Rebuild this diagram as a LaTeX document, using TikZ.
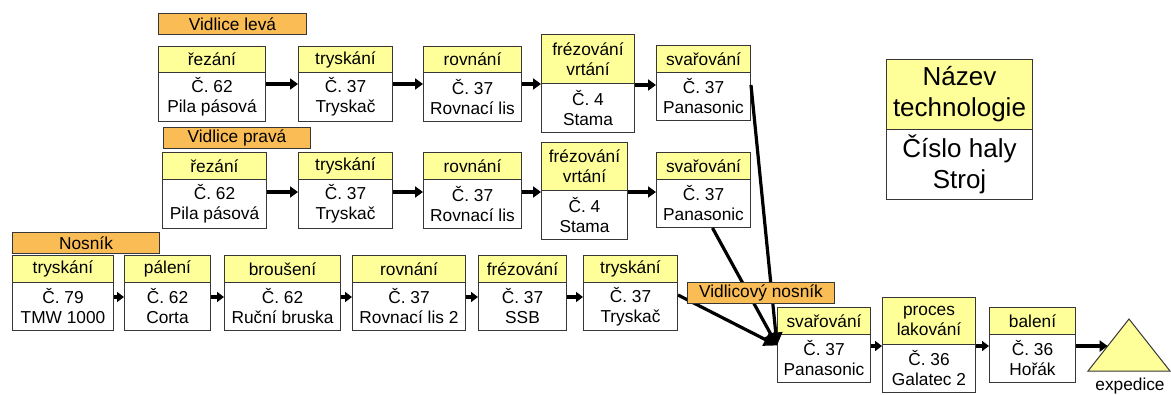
\documentclass[tikz,border=0pt]{standalone}
\usepackage{fontspec}
\setmainfont{Liberation Sans}
\usetikzlibrary{arrows.meta,calc}
\definecolor{hdryellow}{RGB}{255,255,153}
\definecolor{lblorange}{RGB}{250,188,84}
\definecolor{edgegray}{RGB}{55,55,55}
\newcommand\bfnt{\fontsize{17.3}{20}\selectfont}
\newcommand\lgfnt{\fontsize{26}{31}\selectfont}
% name, x1, x2, ytop, yhdr, ybot, header, body
\newcommand\procbox[8]{%
  \node[hdr, anchor=north west, minimum width={(#3-#2)*1pt}, minimum height={(#5-#4)*1pt}] (#1h) at (#2,#4) {#7};
  \node[bdy, anchor=north west, minimum width={(#3-#2)*1pt}, minimum height={(#6-#5)*1pt}] (#1) at (#2,#5) {#8};
}
% name, x1, x2, ytop, ybot, text
\newcommand\lblbox[6]{%
  \node[lbl, anchor=north west, minimum width={(#3-#2)*1pt}, minimum height={(#5-#4)*1pt}] (#1) at (#2,#4) {#6};
}
\begin{document}
\begin{tikzpicture}[x=1pt,y=-1pt,
  hdr/.style={draw=edgegray, line width=1pt, fill=hdryellow, inner sep=0pt, align=center, font=\bfnt},
  bdy/.style={draw=edgegray, line width=1pt, fill=white, inner sep=0pt, align=center, font=\bfnt},
  lbl/.style={draw=edgegray, line width=1pt, fill=lblorange, inner sep=0pt, font=\bfnt},
  arr/.style={line width=3.2pt, -{Triangle[length=8pt,width=11pt]}},
  arrs/.style={line width=3.2pt, -{Triangle[length=7pt,width=10pt]}},
  conv/.style={line width=3.2pt, -{Triangle[length=13pt,width=13pt]}},
  plain/.style={font=\bfnt, inner sep=0pt}]
\useasboundingbox (0,0) rectangle (1171,394);

% labels
\lblbox{lv}{158}{306}{13}{34}{Vidlice levá}
\lblbox{lp}{163}{310}{127}{148}{Vidlice pravá}
\lblbox{ln}{12}{159}{232}{253}{Nosník}

% row 1
\procbox{a1}{158}{265}{46}{72}{121}{řezání}{Č. 62\\Pila pásová}
\procbox{a2}{298}{392}{46}{72}{121}{tryskání}{Č. 37\\Tryskač}
\procbox{a3}{423}{521}{46}{72}{121}{rovnání}{Č. 37\\Rovnací lis}
\procbox{a4}{541}{634}{34}{83}{132}{frézování\\vrtání}{Č. 4\\Stama}
\procbox{a5}{656}{750}{45}{72}{120}{svařování}{Č. 37\\Panasonic}

% row 2
\procbox{b1}{162}{266}{152}{179}{228}{řezání}{Č. 62\\Pila pásová}
\procbox{b2}{298}{392}{152}{179}{228}{tryskání}{Č. 37\\Tryskač}
\procbox{b3}{423}{521}{152}{179}{228}{rovnání}{Č. 37\\Rovnací lis}
\procbox{b4}{541}{627}{142}{190}{239}{frézování\\vrtání}{Č. 4\\Stama}
\procbox{b5}{656}{750}{152}{179}{227}{svařování}{Č. 37\\Panasonic}

% row 3
\procbox{c1}{12}{113}{255}{282}{330}{tryskání}{Č. 79\\TMW 1000}
\procbox{c2}{124}{210}{255}{282}{330}{pálení}{Č. 62\\Corta}
\procbox{c3}{224}{340}{255}{282}{330}{broušení}{Č. 62\\Ruční bruska}
\procbox{c4}{352}{465}{255}{282}{330}{rovnání}{Č. 37\\Rovnací lis 2}
\procbox{c5}{478}{566}{255}{282}{330}{frézování}{Č. 37\\SSB}
\procbox{c6}{583}{677}{255}{282}{330}{tryskání}{Č. 37\\Tryskač}

% bottom row
\procbox{d1}{777}{870}{307}{334}{382}{svařování}{Č. 37\\Panasonic}
\procbox{d2}{882}{975}{297}{344}{392}{proces\\lakování}{Č. 36\\Galatec 2}
\procbox{d3}{989}{1075}{307}{334}{382}{balení}{Č. 36\\Hořák}

% legend
\begin{scope}[hdr/.append style={font=\lgfnt}, bdy/.append style={font=\lgfnt}]
\procbox{lg}{886}{1032}{59}{129}{199}{Název\\technologie}{Číslo haly\\Stroj}
\end{scope}

% expedice triangle
\coordinate (tA) at (1129,319);
\coordinate (tL) at (1088,371);
\coordinate (tR) at (1170,371);
\draw[draw=edgegray, line width=1pt, fill=hdryellow] (tA) -- (tL) -- (tR) -- cycle;
\coordinate (tin) at ($(tL)!0.48!(tA)$);
\node[plain] (exp) at (1130,386) {expedice};

% row y levels
\coordinate (y1) at (0,84);
\coordinate (y1b) at (0,85);
\coordinate (y2) at (0,192);
\coordinate (y3) at (0,297);
\coordinate (y3b) at (0,295);
\coordinate (y4) at (0,346);

\draw[arr] (a1.east |- y1) -- (a2.west |- y1);
\draw[arr] (a2.east |- y1) -- (a3.west |- y1);
\draw[arr] (a3.east |- y1) -- (a4.west |- y1);
\draw[arr] (a4.east |- y1b) -- (a5.west |- y1b);

\draw[arr] (b1.east |- y2) -- (b2.west |- y2);
\draw[arr] (b2.east |- y2) -- (b3.west |- y2);
\draw[arr] (b3.east |- y2) -- (b4.west |- y2);
\draw[arr] (b4.east |- y2) -- (b5.west |- y2);

\draw[arrs] (c1.east |- y3) -- (c2.west |- y3);
\draw[arrs] (c2.east |- y3) -- (c3.west |- y3);
\draw[arrs] (c3.east |- y3) -- (c4.west |- y3);
\draw[arrs] (c4.east |- y3) -- (c5.west |- y3);
\draw[arrs] (c5.east |- y3) -- (c6.west |- y3);

\draw[arrs] (d1.east |- y4) -- (d2.west |- y4);
\draw[arrs] (d2.east |- y4) -- (d3.west |- y4);
\draw[arr] (d3.east |- tin) -- (tin);

% converging lines
\coordinate (tgt) at ([yshift=13pt]d1.west);
\draw[conv] (a5.east |- y1b) -- (tgt);
\draw[conv] ([xshift=9pt]b5.south) -- (tgt);
\draw[conv] (c6.east |- y3b) -- (tgt);

\lblbox{lvn}{687}{834}{282}{303}{Vidlicový nosník}
\end{tikzpicture}
\end{document}
